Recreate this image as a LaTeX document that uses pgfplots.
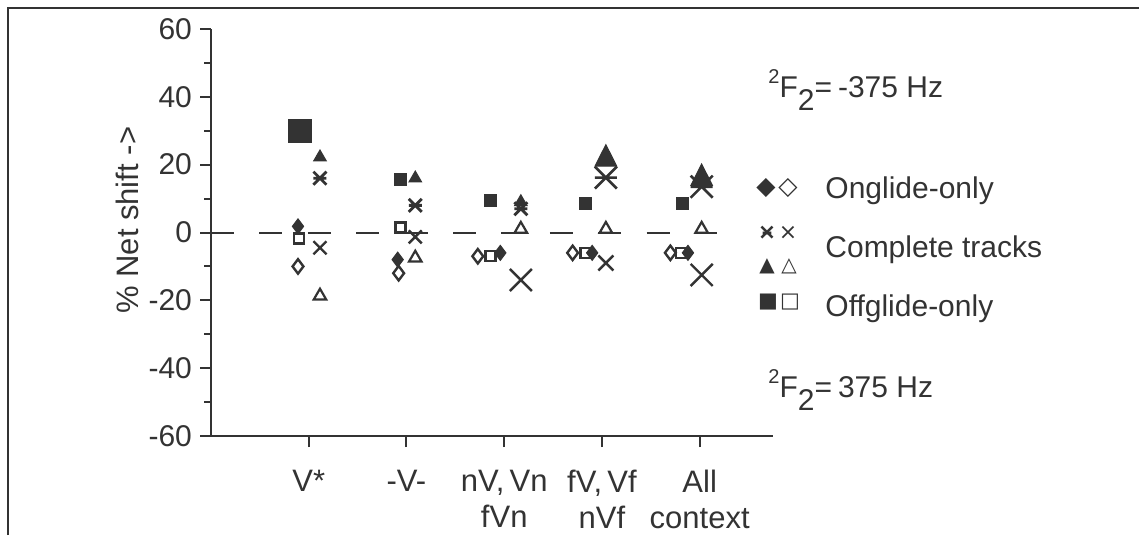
\documentclass[border=0pt]{standalone}
\usepackage{pgfplots}
\pgfplotsset{compat=1.18}
\usepackage{fontspec}
\setmainfont{Liberation Sans}
\newfontfamily\dejavu{DejaVu Sans}
\definecolor{ink}{HTML}{333333}

\pgfdeclareplotmark{xbar}{%
  \pgfpathmoveto{\pgfqpoint{-.7071\pgfplotmarksize}{-.7071\pgfplotmarksize}}%
  \pgfpathlineto{\pgfqpoint{.7071\pgfplotmarksize}{.7071\pgfplotmarksize}}%
  \pgfpathmoveto{\pgfqpoint{-.7071\pgfplotmarksize}{.7071\pgfplotmarksize}}%
  \pgfpathlineto{\pgfqpoint{.7071\pgfplotmarksize}{-.7071\pgfplotmarksize}}%
  \pgfpathmoveto{\pgfqpoint{-.7071\pgfplotmarksize}{0pt}}%
  \pgfpathlineto{\pgfqpoint{.7071\pgfplotmarksize}{0pt}}%
  \pgfusepathqstroke}

\begin{document}
\begin{tikzpicture}
\begin{scope}[x=0.5pt,y=-0.5pt]
\useasboundingbox (0,0) rectangle (1139,535);
\fill[white] (0,0) rectangle (1139,535);
\draw[ink, line width=1pt] (8,535) -- (8,8) -- (1139,8);
\end{scope}

\begin{axis}[
  at={(105.5pt,-218pt)}, anchor=south west,
  width=281pt, height=203.5pt, scale only axis,
  xmin=0, xmax=5.75, ymin=-60, ymax=60,
  axis x line*=bottom, axis y line*=left,
  axis line style={ink, line width=1pt},
  tick style={ink, line width=1pt},
  tick align=outside,
  major tick length=5.5pt, minor tick length=3.5pt,
  xtick={1,2,3,4,5},
  xticklabels={V*, -V-, {nV,\,Vn\\fVn}, {fV,\,Vf\\nVf}, {All\\context}},
  xticklabel style={align=center, font=\fontsize{15.5}{18}\selectfont, text=ink, yshift=-8pt},
  ytick={-60,-40,-20,0,20,40,60},
  yticklabels={-60,-40,-20,0,20,40,60},
  minor ytick={-50,-30,-10,10,30,50},
  yticklabel style={font=\fontsize{15}{17}\selectfont, text=ink, xshift=-0.5pt},
  ylabel={\% Net shift ->},
  ylabel style={at={(axis description cs:-0.149,0.53)}, anchor=center, font=\fontsize{15.5}{17}\selectfont, text=ink},
  clip=false,
]
% zero reference line
\addplot[ink, line width=1pt, dash pattern=on 11.5pt off 12.7pt] coordinates {(0,0) (5.18,0)};

% Onglide-only, 375 Hz (open diamonds)
\addplot[only marks, ink, mark=diamond, mark size=3.6pt, mark options={line width=1.2pt, fill=white}]
  coordinates {(0.89,-10) (1.92,-12) (2.73,-7) (3.70,-6) (4.70,-6)};
% Onglide-only, -375 Hz (filled diamonds)
\addplot[only marks, ink, mark=diamond*, mark size=3.75pt, mark options={line width=0.5pt, fill=ink}]
  coordinates {(1.91,-8) (2.96,-6) (3.90,-6) (4.88,-6)};
% Offglide-only, 375 Hz (open squares)
\addplot[only marks, ink, mark=square, mark size=2.5pt, mark options={line width=1.2pt, fill=white}]
  coordinates {(0.90,-1.8) (1.94,1.5) (2.86,-7) (3.83,-6) (4.81,-6)};
\addplot[only marks, ink, mark=diamond*, mark size=3.75pt, mark options={line width=0.5pt, fill=ink}]
  coordinates {(0.89,1.8)};
% Offglide-only, -375 Hz (filled squares)
\addplot[only marks, ink, mark=square*, mark size=3pt, mark options={line width=0.5pt, fill=ink}]
  coordinates {(1.94,15.5) (2.86,9.3) (3.83,8.5) (4.82,8.5)};
\addplot[only marks, ink, mark=square*, mark size=5.75pt, mark options={line width=0.5pt, fill=ink}]
  coordinates {(0.91,30)};

% Complete tracks, -375 Hz (filled triangles)
\addplot[only marks, ink, mark=triangle*, mark size=3.6pt, mark options={line width=0.5pt, fill=ink}]
  coordinates {(1.115,22.2) (2.09,16) (3.17,9)};
\addplot[only marks, ink, mark=triangle*, mark size=6.2pt, mark options={line width=0.5pt, fill=ink, yscale=1.15}]
  coordinates {(4.04,21.7) (5.02,16)};
% Complete tracks, -375 Hz (crosses with bar)
\addplot[only marks, ink, mark=xbar, mark size=4.6pt, mark options={line width=1.4pt}]
  coordinates {(1.115,16) (2.09,8) (3.17,7)};
\addplot[only marks, ink, mark=xbar, mark size=7.8pt, mark options={line width=1.3pt}]
  coordinates {(4.04,16.2) (5.02,13.5)};
% Complete tracks, 375 Hz (open triangles)
\addplot[only marks, ink, mark=triangle, mark size=3.6pt, mark options={line width=1.1pt, fill=white}]
  coordinates {(1.115,-18.7) (2.09,-7.5) (3.17,1) (4.04,1) (5.02,1)};
% Complete tracks, 375 Hz (crosses)
\addplot[only marks, ink, mark=x, mark size=4.6pt, mark options={line width=1.2pt}]
  coordinates {(1.115,-4.5) (2.09,-1.3)};
\addplot[only marks, ink, mark=x, mark size=5.3pt, mark options={line width=1.2pt}]
  coordinates {(4.04,-9)};
\addplot[only marks, ink, mark=x, mark size=7.8pt, mark options={line width=1.2pt}]
  coordinates {(3.17,-14) (5.02,-12.5)};
\end{axis}

\begin{scope}[x=0.5pt,y=-0.5pt]
% annotations
\node[anchor=base west, inner sep=0pt, font=\fontsize{15}{17}\selectfont, text=ink] at (768,97)
  {\raisebox{0.45em}{\fontsize{10}{10}\selectfont 2}F\raisebox{-0.45em}{2}=\kern0.2em-375 Hz};
\node[anchor=base west, inner sep=0pt, font=\fontsize{15}{17}\selectfont, text=ink] at (768,397)
  {\raisebox{0.45em}{\fontsize{10}{10}\selectfont 2}F\raisebox{-0.45em}{2}=\kern0.2em375 Hz};
% legend
\begin{scope}[every node/.style={inner sep=0pt, text=ink, font=\dejavu\fontsize{12.5}{13}\selectfont}]
\node at (766,188) {◆};
\node at (788,188) {◇};
\node[font=\dejavu\bfseries\fontsize{11}{12}\selectfont] at (767,233) {\ooalign{\hfil×\hfil\cr\hfil\raisebox{0.03em}{–}\hfil\cr}};
\node[font=\dejavu\fontsize{11}{12}\selectfont] at (788,233) {×};
\node[font=\dejavu\fontsize{10}{11}\selectfont] at (767,266) {▲};
\node[font=\dejavu\fontsize{10}{11}\selectfont] at (789,266) {△};
\node[font=\dejavu\fontsize{10.5}{11}\selectfont] at (768,302) {■};
\node[font=\dejavu\fontsize{10.5}{11}\selectfont] at (790,302) {□};
\end{scope}
\begin{scope}[every node/.style={inner sep=0pt, text=ink, anchor=base west, font=\fontsize{15}{18}\selectfont}]
\node at (825,198) {Onglide-only};
\node at (825,257) {Complete tracks};
\node at (825,316) {Offglide-only};
\end{scope}
\end{scope}
\end{tikzpicture}
\end{document}
